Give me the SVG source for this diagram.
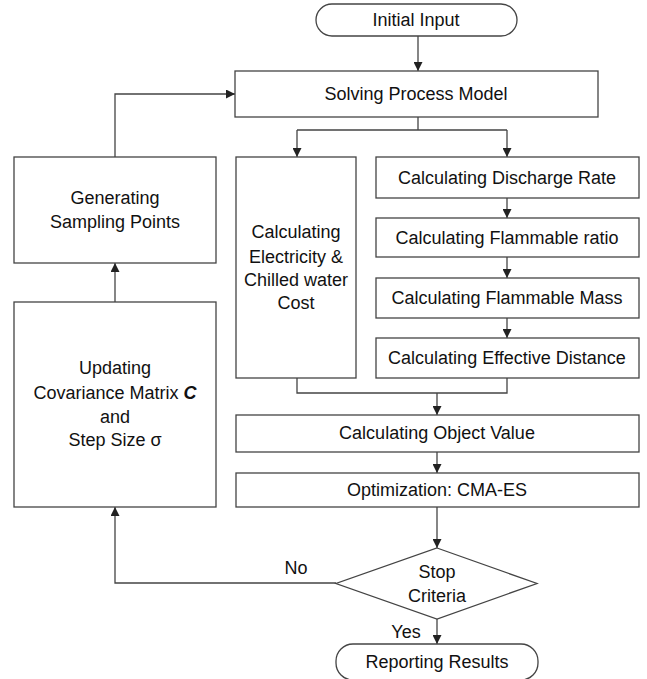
<svg xmlns="http://www.w3.org/2000/svg" width="647" height="679" viewBox="0 0 647 679">
<defs>
<marker id="ah" viewBox="0 0 10 10" refX="10" refY="5" markerWidth="9" markerHeight="9" markerUnits="userSpaceOnUse" orient="auto">
<path d="M0,0 L10,5 L0,10 z" fill="#222"/>
</marker>
<style>
.box{fill:#fff;stroke:#444;stroke-width:1.3}
.t{font-family:"Liberation Sans",Arial,sans-serif;font-size:18px;fill:#111;text-anchor:middle;dominant-baseline:central}
.c{fill:none;stroke:#444;stroke-width:1.3}
.ca{fill:none;stroke:#444;stroke-width:1.3;marker-end:url(#ah)}
</style>
</defs>
<rect width="647" height="679" fill="#fff"/>
<g id="connectors">
<path class="ca" d="M418,36 V71"/>
<path class="c" d="M418,117 V130 M297,130 H507"/>
<path class="ca" d="M297,130 V157"/>
<path class="ca" d="M507,130 V157"/>
<path class="ca" d="M507,198 V218"/>
<path class="ca" d="M507,257 V278"/>
<path class="ca" d="M507,318 V338"/>
<path class="c" d="M297,378 V393 H507 V378"/>
<path class="ca" d="M437,393 V415"/>
<path class="ca" d="M437,452 V473"/>
<path class="ca" d="M437,507 V548"/>
<path class="ca" d="M437,619 V644"/>
<path class="ca" d="M336,583 H115 V507"/>
<path class="ca" d="M115,302 V263"/>
<path class="ca" d="M115,157 V94 H235"/>
</g>
<g id="initial"><rect class="box" x="316" y="4" width="201" height="32" rx="16"/><text class="t" x="416" y="20">Initial Input</text></g>
<g id="solving"><rect class="box" x="235" y="71" width="363" height="46"/><text class="t" x="416" y="94">Solving Process Model</text></g>
<g id="generating"><rect class="box" x="14" y="157" width="202" height="106"/><text class="t" x="115" y="198">Generating</text><text class="t" x="115" y="222">Sampling Points</text></g>
<g id="updating"><rect class="box" x="14" y="302" width="202" height="205"/><text class="t" x="115" y="368">Updating</text><text class="t" x="115" y="393">Covariance Matrix <tspan font-weight="bold" font-style="italic">C</tspan></text><text class="t" x="115" y="417">and</text><text class="t" x="115" y="440">Step Size σ</text></g>
<g id="electricity"><rect class="box" x="236" y="157" width="120" height="221"/><text class="t" x="296" y="232">Calculating</text><text class="t" x="296" y="257">Electricity &amp;</text><text class="t" x="296" y="280">Chilled water</text><text class="t" x="296" y="303">Cost</text></g>
<g id="discharge"><rect class="box" x="376" y="157" width="263" height="41"/><text class="t" x="507" y="178">Calculating Discharge Rate</text></g>
<g id="ratio"><rect class="box" x="376" y="218" width="263" height="39"/><text class="t" x="507" y="238">Calculating Flammable ratio</text></g>
<g id="mass"><rect class="box" x="376" y="278" width="263" height="40"/><text class="t" x="507" y="298">Calculating Flammable Mass</text></g>
<g id="distance"><rect class="box" x="376" y="338" width="263" height="40"/><text class="t" x="507" y="358">Calculating Effective Distance</text></g>
<g id="objective"><rect class="box" x="236" y="415" width="403" height="37"/><text class="t" x="437" y="433">Calculating Object Value</text></g>
<g id="optimization"><rect class="box" x="236" y="473" width="403" height="34"/><text class="t" x="437" y="490">Optimization: CMA-ES</text></g>
<g id="stop"><polygon class="box" points="437,548 537,583.5 437,619 336,583.5"/><text class="t" x="437" y="572">Stop</text><text class="t" x="437" y="596">Criteria</text></g>
<g id="report"><rect class="box" x="336" y="644" width="202" height="36" rx="17"/><text class="t" x="437" y="662">Reporting Results</text></g>
<g id="labels"><text class="t" x="296" y="568">No</text><text class="t" x="406" y="632">Yes</text></g>
</svg>
